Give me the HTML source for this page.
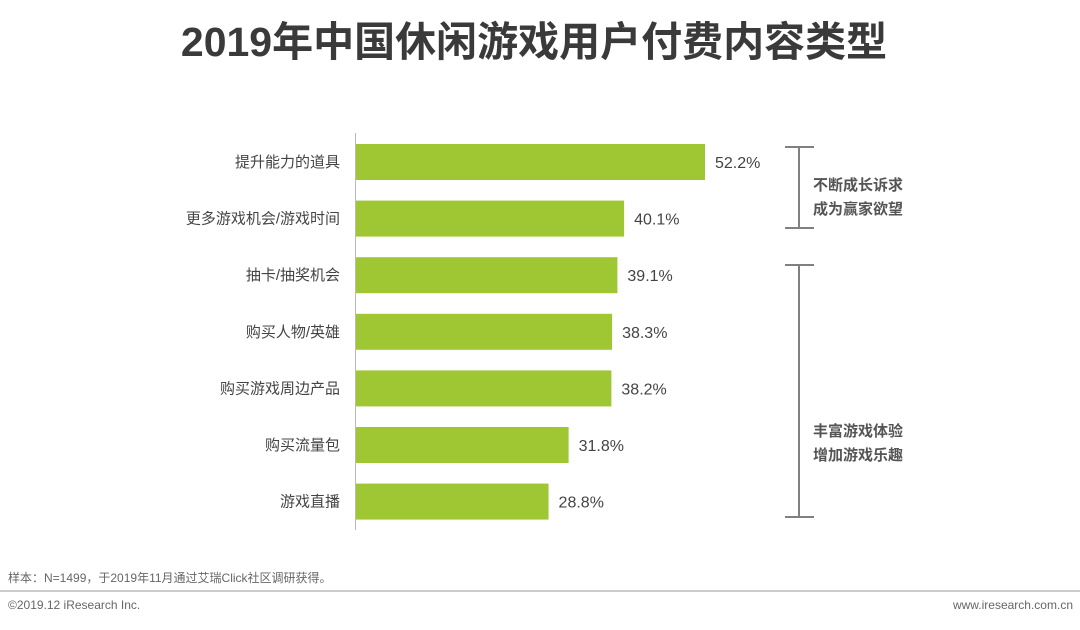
<!DOCTYPE html>
<html><head><meta charset="utf-8">
<style>
body{margin:0;width:1080px;height:625px;background:#fff;overflow:hidden;font-family:"Liberation Sans","Noto Sans CJK SC",sans-serif;}
</style></head>
<body>
<svg id="chart" width="1080" height="625" xmlns="http://www.w3.org/2000/svg" font-family="Liberation Sans, Noto Sans CJK SC, sans-serif">
<text x="534" y="56" text-anchor="middle" font-size="41" font-weight="bold" fill="#3a3a3a">2019年中国休闲游戏用户付费内容类型</text>
<g id="bars"></g>
<line x1="355.5" y1="133" x2="355.5" y2="530" stroke="#bbb" stroke-width="1"/>
<g stroke="#808080" stroke-width="2">
<line x1="799" y1="147" x2="799" y2="228"/><line x1="785" y1="147" x2="814" y2="147"/><line x1="785" y1="228" x2="814" y2="228"/>
</g>
<text x="813" font-size="15" font-weight="bold" fill="#555"><tspan x="813" y="190">不断成长诉求</tspan><tspan x="813" y="214">成为赢家欲望</tspan></text>
<g stroke="#808080" stroke-width="2">
<line x1="799" y1="265" x2="799" y2="517"/><line x1="785" y1="265" x2="814" y2="265"/><line x1="785" y1="517" x2="814" y2="517"/>
</g>
<text x="813" font-size="15" font-weight="bold" fill="#555"><tspan x="813" y="436">丰富游戏体验</tspan><tspan x="813" y="460">增加游戏乐趣</tspan></text>
<text x="8" y="582" font-size="12" fill="#666">样本：N=1499，于2019年11月通过艾瑞Click社区调研获得。</text>
<line x1="0" y1="591" x2="1080" y2="591" stroke="#999" stroke-width="1"/>
<text x="8" y="609" font-size="12" fill="#666">©2019.12 iResearch Inc.</text>
<text x="1073" y="609" font-size="12" fill="#666" text-anchor="end">www.iresearch.com.cn</text>
</svg>
<script>
const categories=["提升能力的道具","更多游戏机会/游戏时间","抽卡/抽奖机会","购买人物/英雄","购买游戏周边产品","购买流量包","游戏直播"];
const values=[52.2,40.1,39.1,38.3,38.2,31.8,28.8];
const valueLabels=["52.2%","40.1%","39.1%","38.3%","38.2%","31.8%","28.8%"];
const NS="http://www.w3.org/2000/svg";
const x0=356, pxPer=349/52.2;
function xScale(v){return x0+v*pxPer;}
function yCenter(i){return 162+i*56.6;}
const g=document.getElementById('bars');
categories.forEach((c,i)=>{
  const y=yCenter(i);
  const r=document.createElementNS(NS,'rect');
  
  
  r.setAttribute('x',x0);r.setAttribute('y',y-18);
  r.setAttribute('width',xScale(values[i])-x0);r.setAttribute('height',36);
  r.setAttribute('fill','#9fc734');
  g.appendChild(r);
  const t=document.createElementNS(NS,'text');
  
  
  t.setAttribute('x',340);t.setAttribute('y',y+5);
  t.setAttribute('text-anchor','end');t.setAttribute('font-size','15');t.setAttribute('fill','#444');
  t.textContent=c;g.appendChild(t);
  const v=document.createElementNS(NS,'text');
  
  
  v.setAttribute('x',xScale(values[i])+10);v.setAttribute('y',y+6);
  v.setAttribute('font-size','16');v.setAttribute('fill','#444');
  v.textContent=valueLabels[i];g.appendChild(v);
});
</script>
</body></html>
